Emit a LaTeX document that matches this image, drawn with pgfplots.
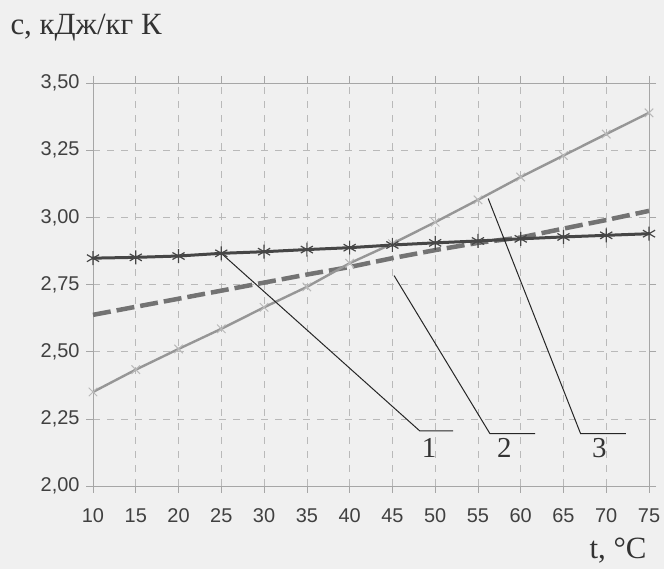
\documentclass[border=0pt]{standalone}
\usepackage{pgfplots}
\pgfplotsset{compat=1.18}
\usepackage{fontspec}
\setmainfont{Liberation Serif}
\newfontfamily\tickfont{Liberation Sans}
\definecolor{darkser}{RGB}{70,70,70}
\definecolor{dashser}{RGB}{115,115,115}
\definecolor{lightser}{RGB}{150,150,150}
\definecolor{lightmark}{RGB}{185,185,185}
\begin{document}
\begin{tikzpicture}[x=1bp,y=1bp]
\useasboundingbox (0,0) rectangle (664,569);
\fill[black!6] (0,0) rectangle (664,569);
\begin{axis}[
  at={(93bp,83bp)}, anchor=south west, scale only axis,
  width=556bp, height=403bp,
  xmin=10, xmax=75, ymin=2, ymax=3.5,
  xtick={10,15,20,25,30,35,40,45,50,55,60,65,70,75},
  ytick={2,2.25,2.5,2.75,3,3.25,3.5},
  /pgf/number format/assume math mode=true,
  yticklabel style={/pgf/number format/fixed, /pgf/number format/fixed zerofill, /pgf/number format/precision=2, /pgf/number format/use comma, xshift=-3bp},
  tick label style={font=\tickfont\fontsize{20}{20}\selectfont, text=black!75},
  xticklabel style={yshift=-12bp},
  tick align=outside, major tick length=7bp,
  tick style={gray!70, line width=0.6bp},
  axis line style={gray!70, line width=0.9bp},
  grid=major,
  major grid style={gray!55, line width=0.6bp, dash pattern=on 7bp off 7bp},
  clip=false,
]
% series 2 (dashed)
\addplot[dashser, line width=4.5bp, dash pattern=on 18bp off 6bp, no marks] coordinates {
(10,2.637)(15,2.667)(20,2.697)(25,2.727)(30,2.757)(35,2.787)(40,2.815)
(45,2.848)(50,2.878)(55,2.905)(60,2.925)(65,2.958)(70,2.990)(75,3.024)};
% series 3 (light, x marks)
\addplot[lightser, line width=2.4bp, mark=x, mark size=6bp,
  mark options={lightmark, line width=1bp, solid}] coordinates {
(10,2.350)(15,2.433)(20,2.510)(25,2.585)(30,2.665)(35,2.741)(40,2.829)
(45,2.902)(50,2.982)(55,3.065)(60,3.150)(65,3.230)(70,3.310)(75,3.389)};
% series 1 (dark, asterisks)
\addplot[darkser, line width=3bp, mark=asterisk, mark size=7bp,
  mark options={darkser, line width=1.2bp, solid}] coordinates {
(10,2.848)(15,2.851)(20,2.856)(25,2.866)(30,2.872)(35,2.880)(40,2.887)
(45,2.897)(50,2.905)(55,2.912)(60,2.920)(65,2.927)(70,2.933)(75,2.939)};
% leader lines
\addplot[black!85, line width=1bp, no marks] coordinates {(25,2.866)(48.2,2.205)(52.1,2.205)};
\addplot[black!85, line width=1bp, no marks] coordinates {(45.2,2.783)(56.4,2.195)(61.7,2.195)};
\addplot[black!85, line width=1bp, no marks] coordinates {(56.2,3.07)(67.0,2.195)(72.3,2.195)};
\node[font=\fontsize{29}{29}\selectfont, text=black!80] at (axis cs:49.3,2.143) {1};
\node[font=\fontsize{29}{29}\selectfont, text=black!80] at (axis cs:58.1,2.143) {2};
\node[font=\fontsize{29}{29}\selectfont, text=black!80] at (axis cs:69.2,2.143) {3};
\end{axis}
\node[anchor=east, font=\fontsize{31}{31}\selectfont, text=black!80] at (650,18) {t, °C};
\node[anchor=west, font=\fontsize{31}{31}\selectfont, text=black!80] at (7,541) {c, кДж/кг К};
\end{tikzpicture}
\end{document}
